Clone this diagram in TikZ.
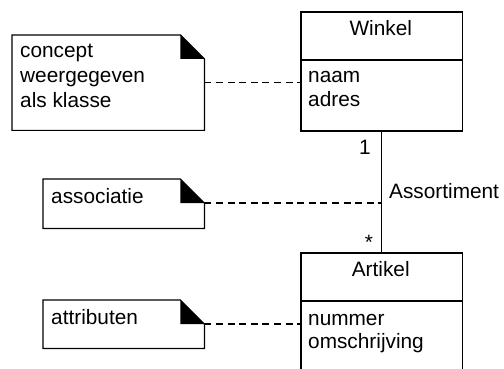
\documentclass[tikz,border=0pt]{standalone}
\usepackage{fontspec}
\setmainfont{Liberation Sans}
\begin{document}
\begin{tikzpicture}[x=1pt,y=-1pt,
  txt/.style={inner sep=0pt, font=\fontsize{20.8}{24}\selectfont},
  classbox/.style={draw, line width=1.9pt, anchor=north west, inner sep=0pt},
  notebox/.style={draw=none, anchor=north west, inner sep=0pt},
  notepen/.style={line width=1.2pt, line join=miter},
  assoc/.style={line width=1.2pt},
  noteline/.style={line width=1.1pt, dash pattern=on 7pt off 4.6pt}
]
\useasboundingbox (0,0) rectangle (504,369);
\clip (0,0) rectangle (504,369);

% dog-eared note outline with a filled fold
\newcommand\dognote[1]{%
  \draw[notepen] (#1.north west) -- ([xshift=-24pt]#1.north east)
    -- ([yshift=-24pt]#1.north east) -- (#1.south east)
    -- (#1.south west) -- cycle;
  \fill ([xshift=-24pt]#1.north east) -- ([xshift=-24pt,yshift=-24pt]#1.north east)
    -- ([yshift=-24pt]#1.north east) -- cycle;}

% classes
\node[classbox, minimum width=161.5pt, minimum height=118.5pt] (winkel) at (300,11.5) {};
\node[classbox, minimum width=161.5pt, minimum height=160pt] (artikel) at (300,252) {};
\coordinate (wdivL) at (300,60);
\coordinate (adivL) at (300,301);
\draw[line width=1.5pt] (wdivL) -- (wdivL -| winkel.east);
\draw[line width=1.5pt] (adivL) -- (adivL -| artikel.east);

\node[txt, anchor=base] (wname) at (380.75,36) {Winkel};
\node[txt, anchor=base west] (wa1) at (308,82.5) {naam};
\node[txt, anchor=base west] (wa2) at (308,106.5) {adres};
\node[txt, anchor=base] (aname) at (380.75,276.5) {Artikel};
\node[txt, anchor=base west] (aa1) at (308,325.5) {nummer};
\node[txt, anchor=base west] (aa2) at (308,348.5) {omschrijving};

% association
\draw[assoc] (winkel.south) -- (artikel.north);
\node[txt, anchor=base] (mult1) at (365,154) {1};
\node[txt, anchor=base] (multn) at (369,249) {*};
\node[txt, anchor=base west] (assocname) at (389,198) {Assortiment};

% notes
\node[notebox, minimum width=192pt, minimum height=95pt] (nconcept) at (12,35) {};
\node[notebox, minimum width=161pt, minimum height=49pt] (nassoc) at (43,179) {};
\node[notebox, minimum width=161pt, minimum height=48pt] (nattr) at (43,300) {};
\dognote{nconcept}
\dognote{nassoc}
\dognote{nattr}

\node[txt, anchor=base west] (c1) at (20,58) {concept};
\node[txt, anchor=base west] (c2) at (20,82.5) {weergegeven};
\node[txt, anchor=base west] (c3) at (20,107) {als klasse};
\node[txt, anchor=base west] (t2) at (51,203) {associatie};
\node[txt, anchor=base west] (t3) at (51,324) {attributen};

% note anchors
\coordinate (fassoc) at ([yshift=-24pt]nassoc.north east);
\coordinate (fattr) at ([yshift=-24pt]nattr.north east);
\draw[noteline] (nconcept.east) -- (nconcept.east -| winkel.west);
\draw[noteline] (fassoc) -- (fassoc -| winkel.south);
\draw[noteline] (fattr) -- (fattr -| artikel.west);
\end{tikzpicture}
\end{document}
